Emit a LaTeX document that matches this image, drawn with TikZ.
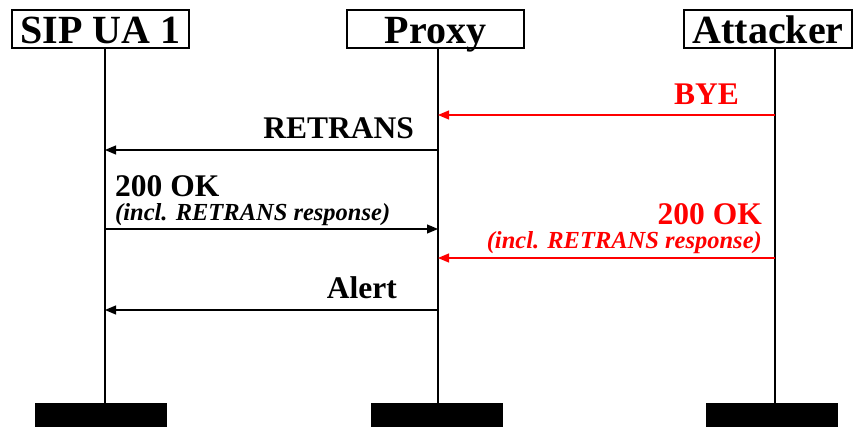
\documentclass[tikz,border=0pt]{standalone}
\usepackage{fontspec}
\setmainfont{Liberation Serif}
\usetikzlibrary{arrows.meta}
\definecolor{attack}{RGB}{255,0,0}
\begin{document}
\begin{tikzpicture}[x=1pt,y=-1pt,
  actor/.style={draw,line width=1.3pt,minimum height=38pt,inner sep=0pt,text height=34pt,text depth=4pt,font=\fontsize{40}{40}\selectfont\bfseries},
  endbar/.style={fill=black,draw=none,minimum width=132pt,minimum height=24pt,inner sep=0pt},
  life/.style={line width=1.4pt},
  msg/.style={line width=1.2pt,-{Triangle[length=11pt,width=9pt]}},
  lbl/.style={font=\fontsize{31.5}{31.5}\selectfont\bfseries,inner sep=0pt,anchor=base east},
  sub/.style={font=\fontsize{24.5}{24.5}\selectfont\bfseries\itshape,inner sep=0pt}]
\useasboundingbox (0,0) rectangle (854,427);
% participants
\node[actor,minimum width=177pt] (ua) at (100.5,29) {SIP UA 1};
\node[actor,minimum width=177pt] (px) at (435.5,29) {Proxy};
\node[actor,minimum width=168pt] (at) at (768,29) {Attacker};
% end markers
\node[endbar] (uaE) at (101,415) {};
\node[endbar] (pxE) at (437,415) {};
\node[endbar] (atE) at (772,415) {};
% lifelines
\coordinate (uaT) at (105,48); \coordinate (uaB) at (105,403);
\coordinate (pxT) at (438,48); \coordinate (pxB) at (438,403);
\coordinate (atT) at (775,48); \coordinate (atB) at (775,403);
\draw[life] (uaT) -- (uaB);
\draw[life] (pxT) -- (pxB);
\draw[life] (atT) -- (atB);
% message endpoints
\coordinate (m1a) at (775,115); \coordinate (m1b) at (438,115);
\coordinate (m2a) at (438,150); \coordinate (m2b) at (105,150);
\coordinate (m3a) at (105,229); \coordinate (m3b) at (438,229);
\coordinate (m4a) at (775,258); \coordinate (m4b) at (438,258);
\coordinate (m5a) at (438,310); \coordinate (m5b) at (105,310);
% messages
\draw[msg,draw=attack,fill=attack] (m1a) -- (m1b);
\node[lbl,text=attack] (l1) at (739,105) {BYE};
\draw[msg] (m2a) -- (m2b);
\node[lbl] (l2) at (414,139) {RETRANS};
\draw[msg] (m3a) -- (m3b);
\node[lbl,anchor=base west] (l3) at (115,197) {200 OK};
\node[sub,anchor=base west] (l3s) at (115,221) {(incl. RETRANS response)};
\draw[msg,draw=attack,fill=attack] (m4a) -- (m4b);
\node[lbl,text=attack] (l4) at (762,225) {200 OK};
\node[sub,anchor=base east,text=attack] (l4s) at (762,249) {(incl. RETRANS response)};
\draw[msg] (m5a) -- (m5b);
\node[lbl] (l5) at (397,299) {Alert};
\end{tikzpicture}
\end{document}
